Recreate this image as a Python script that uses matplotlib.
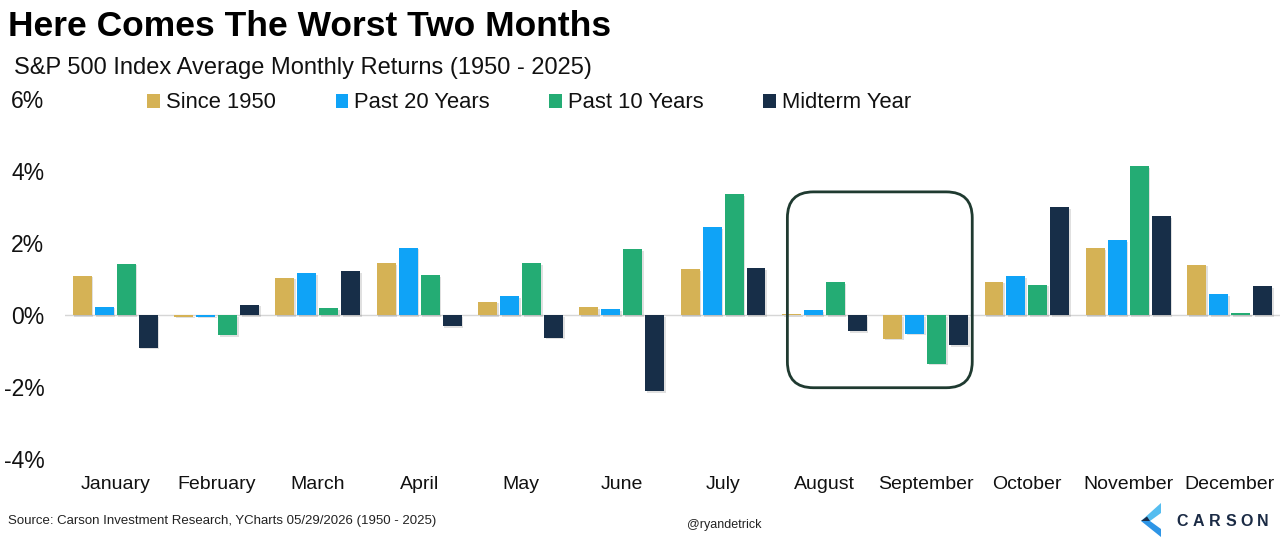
import matplotlib
matplotlib.use('Agg')
import matplotlib.pyplot as plt
from matplotlib.patches import FancyBboxPatch, Patch, Polygon
import matplotlib.patheffects as pe
import numpy as np

plt.rcParams['font.family'] = ['Liberation Sans', 'DejaVu Sans']

# ---------------- data ----------------
months = ["January", "February", "March", "April", "May", "June", "July",
          "August", "September", "October", "November", "December"]
series_names = ["Since 1950", "Past 20 Years", "Past 10 Years", "Midterm Year"]
since_1950 = [1.09, -0.05, 1.04, 1.44, 0.37, 0.21, 1.28, 0.03, -0.66, 0.93, 1.85, 1.40]
past_20 = [0.23, -0.05, 1.17, 1.87, 0.53, 0.16, 2.44, 0.14, -0.52, 1.07, 2.08, 0.58]
past_10 = [1.43, -0.56, 0.19, 1.11, 1.44, 1.83, 3.36, 0.91, -1.35, 0.84, 4.14, 0.06]
midterm = [-0.91, 0.29, 1.22, -0.31, -0.63, -2.11, 1.30, -0.45, -0.84, 2.99, 2.74, 0.81]
yticks = [-4, -2, 0, 2, 4, 6]

colors = ['#D5B255', '#0FA3F7', '#24AC74', '#172E48']

# ---------------- figure ----------------
W, H = 1280, 540
fig = plt.figure(figsize=(W / 100, H / 100), dpi=100)
ax_left, ax_right, ax_top, ax_bottom = 64.6, 1280.2, 99, 459
ax = fig.add_axes([ax_left / W, 1 - ax_bottom / H, (ax_right - ax_left) / W, (ax_bottom - ax_top) / H])

x = np.arange(len(months))
pitch = 0.217
width = 0.187
series = [since_1950, past_20, past_10, midterm]
shadow = [pe.SimplePatchShadow(offset=(1.2, -1.2), alpha=0.18, shadow_rgbFace='#555555'), pe.Normal()]
for i, (vals, c, name) in enumerate(zip(series, colors, series_names)):
    bars = ax.bar(x + (i - 1.5) * pitch, vals, width=width, color=c, label=name, zorder=3)
    for b in bars:
        b.set_path_effects(shadow)

ax.set_xlim(-0.5, len(months) - 0.5)
ax.set_ylim(-4, 6)
ax.axhline(0, color='#d6d6d6', lw=1.0, zorder=2)

for s in ax.spines.values():
    s.set_visible(False)
ax.set_yticks(yticks)
ax.set_yticklabels([f"{v}%" for v in yticks])
ax.set_xticks(x)
ax.set_xticklabels(months)
ax.tick_params(axis='y', length=0, labelsize=16.5, pad=14.5, labelcolor='#111111')
ax.tick_params(axis='x', length=0, labelsize=14, pad=12.5, labelcolor='#111111')

# highlight box around August / September
px_per_x = (ax_right - ax_left) / len(months)
px_per_y = (ax_bottom - ax_top) / 10.0
box_x0, box_x1 = 6.635, 8.46
box_y0, box_y1 = -2.02, 3.42
radius_px = 26
box = FancyBboxPatch((box_x0, box_y0), box_x1 - box_x0, box_y1 - box_y0,
                     boxstyle=f"round,pad=0,rounding_size={radius_px / px_per_x}",
                     mutation_aspect=px_per_x / px_per_y,
                     fill=False, edgecolor='#1F3A30', linewidth=2.0, zorder=5, clip_on=False)
ax.add_patch(box)

# legend
handles = [Patch(facecolor=c, edgecolor='none') for c in colors]
fig.legend(handles, series_names, loc='center left', bbox_to_anchor=(147.3 / W, 1 - 103 / H),
           ncol=4, frameon=False, fontsize=15.8, handlelength=0.59, handleheight=0.59,
           handletextpad=0.26, columnspacing=2.72, borderpad=0, borderaxespad=0,
           labelcolor='#111111')

# titles
fig.text(8 / W, 1 - 10 / H, "Here Comes The Worst Two Months", fontsize=25.5,
         fontweight='bold', va='top', ha='left', color='#000000')
fig.text(14 / W, 1 - 57 / H, "S&P 500 Index Average Monthly Returns (1950 - 2025)",
         fontsize=17, va='top', ha='left', color='#111111')

# footer
fig.text(8 / W, 1 - 521 / H, "Source: Carson Investment Research, YCharts 05/29/2026 (1950 - 2025)",
         fontsize=9.5, va='center', ha='left', color='#222222')
fig.text(724 / W, 1 - 525 / H, "@ryandetrick", fontsize=9, va='center', ha='center', color='#222222')

# Carson logo
def fp(px, py):
    return (px / W, 1 - py / H)

logo_parts = [
    ([(1161, 503), (1161, 513), (1150, 521), (1141, 521)], '#55BDF0'),
    ([(1141, 521), (1150, 521), (1161, 529), (1161, 537)], '#2E95E6'),
    ([(1141, 521), (1147, 516.5), (1150, 521)], '#1B2D4A'),
]
for pts, col in logo_parts:
    fig.patches.append(Polygon([fp(*p) for p in pts], closed=True, facecolor=col,
                               edgecolor='none', transform=fig.transFigure, figure=fig))
for k, ch in enumerate("CARSON"):
    fig.text((1182 + k * 16.2) / W, 1 - 521 / H, ch, fontsize=11.5, fontweight='bold',
             va='center', ha='center', color='#1B2B45')

fig.savefig('out.png', dpi=100)
